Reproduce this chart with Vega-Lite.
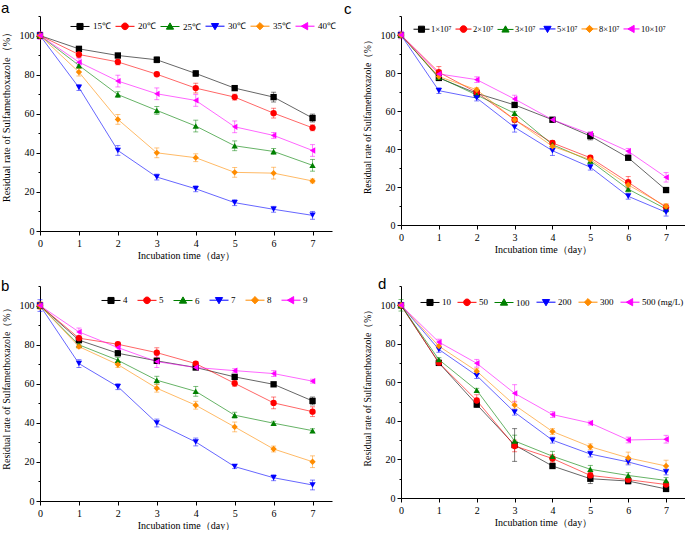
{
  "$schema": "https://vega.github.io/schema/vega-lite/v6.json",
  "background": "white",
  "padding": {"left": 1, "top": 1, "right": 0, "bottom": 0},
  "config": {
    "view": {"stroke": null},
    "axis": {"grid": false, "domainColor": "#000", "tickColor": "#000", "labelColor": "#000", "titleColor": "#000", "labelFont": "Liberation Serif", "labelFontSize": 10, "titleFont": "Liberation Serif", "titleFontSize": 10, "titleFontWeight": "normal", "tickSize": 4, "labelPadding": 2, "labelFlush": false, "labelOverlap": false},
    "axisY": {"titlePadding": 8, "titleY": 98},
    "axisX": {"titlePadding": 2, "labelPadding": 3},
    "legend": {"orient": "none", "direction": "horizontal", "symbolSize": 361, "labelFont": "Liberation Serif", "labelFontSize": 9, "labelColor": "#000", "labelOffset": 2, "columnPadding": 2, "title": null, "symbolOpacity": 1, "symbolStrokeWidth": 1},
    "title": {"font": "Liberation Sans", "fontSize": 15, "fontWeight": "normal", "anchor": "start", "frame": "group", "color": "#000", "offset": 0}
  },
  "datasets": {
    "a": [
      {"s":"15℃","t":0,"v":100,"e":1.5},{"s":"15℃","t":1,"v":93.2,"e":1},{"s":"15℃","t":2,"v":89.8,"e":1},{"s":"15℃","t":3,"v":87.6,"e":1.5},{"s":"15℃","t":4,"v":80.6,"e":1.5},{"s":"15℃","t":5,"v":73.1,"e":1},{"s":"15℃","t":6,"v":68.5,"e":2.5},{"s":"15℃","t":7,"v":57.8,"e":2},
      {"s":"20℃","t":0,"v":100,"e":1.5},{"s":"20℃","t":1,"v":90.3,"e":1.5},{"s":"20℃","t":2,"v":86.5,"e":1.5},{"s":"20℃","t":3,"v":80.2,"e":1},{"s":"20℃","t":4,"v":73.1,"e":2.5},{"s":"20℃","t":5,"v":68.5,"e":1.5},{"s":"20℃","t":6,"v":60.3,"e":2.5},{"s":"20℃","t":7,"v":52.8,"e":1.5},
      {"s":"25℃","t":0,"v":100,"e":1.5},{"s":"25℃","t":1,"v":84.7,"e":1.5},{"s":"25℃","t":2,"v":69.8,"e":1.5},{"s":"25℃","t":3,"v":61.7,"e":2},{"s":"25℃","t":4,"v":53.7,"e":3},{"s":"25℃","t":5,"v":43.6,"e":2.5},{"s":"25℃","t":6,"v":40.7,"e":1.5},{"s":"25℃","t":7,"v":33.6,"e":3},
      {"s":"30℃","t":0,"v":100,"e":1},{"s":"30℃","t":1,"v":73.4,"e":1.5},{"s":"30℃","t":2,"v":41.2,"e":2.5},{"s":"30℃","t":3,"v":27.6,"e":1.5},{"s":"30℃","t":4,"v":21.6,"e":1.5},{"s":"30℃","t":5,"v":14.5,"e":1.5},{"s":"30℃","t":6,"v":11.1,"e":1.5},{"s":"30℃","t":7,"v":8.0,"e":2},
      {"s":"35℃","t":0,"v":100,"e":1},{"s":"35℃","t":1,"v":81.3,"e":2},{"s":"35℃","t":2,"v":57.1,"e":2.5},{"s":"35℃","t":3,"v":40.0,"e":2.5},{"s":"35℃","t":4,"v":37.5,"e":2},{"s":"35℃","t":5,"v":30.0,"e":2.5},{"s":"35℃","t":6,"v":29.6,"e":3},{"s":"35℃","t":7,"v":25.6,"e":1},
      {"s":"40℃","t":0,"v":100,"e":2},{"s":"40℃","t":1,"v":86.4,"e":2},{"s":"40℃","t":2,"v":76.7,"e":3},{"s":"40℃","t":3,"v":70.2,"e":3},{"s":"40℃","t":4,"v":66.8,"e":3},{"s":"40℃","t":5,"v":53.3,"e":3},{"s":"40℃","t":6,"v":48.9,"e":1.5},{"s":"40℃","t":7,"v":41.2,"e":3}
    ],
    "b": [
      {"s":"4","t":0,"v":100,"e":1},{"s":"4","t":1,"v":82.3,"e":1},{"s":"4","t":2,"v":75.6,"e":1},{"s":"4","t":3,"v":71.7,"e":1},{"s":"4","t":4,"v":68.3,"e":1},{"s":"4","t":5,"v":63.5,"e":1},{"s":"4","t":6,"v":59.7,"e":1},{"s":"4","t":7,"v":51.2,"e":2},
      {"s":"5","t":0,"v":100,"e":1},{"s":"5","t":1,"v":83.3,"e":1},{"s":"5","t":2,"v":80.2,"e":1},{"s":"5","t":3,"v":75.9,"e":2.5},{"s":"5","t":4,"v":70.3,"e":1},{"s":"5","t":5,"v":60.2,"e":1.5},{"s":"5","t":6,"v":50.2,"e":3},{"s":"5","t":7,"v":45.7,"e":2.5},
      {"s":"6","t":0,"v":100,"e":1},{"s":"6","t":1,"v":79.9,"e":1},{"s":"6","t":2,"v":72.0,"e":1.5},{"s":"6","t":3,"v":61.8,"e":2},{"s":"6","t":4,"v":56.1,"e":2.5},{"s":"6","t":5,"v":43.9,"e":1.5},{"s":"6","t":6,"v":39.8,"e":1},{"s":"6","t":7,"v":36.0,"e":1},
      {"s":"7","t":0,"v":100,"e":3},{"s":"7","t":1,"v":70.3,"e":2},{"s":"7","t":2,"v":58.5,"e":1.5},{"s":"7","t":3,"v":39.9,"e":2},{"s":"7","t":4,"v":30.2,"e":2},{"s":"7","t":5,"v":17.6,"e":1},{"s":"7","t":6,"v":11.9,"e":1.5},{"s":"7","t":7,"v":8.2,"e":2.5},
      {"s":"8","t":0,"v":100,"e":2},{"s":"8","t":1,"v":79.0,"e":1},{"s":"8","t":2,"v":69.8,"e":1.5},{"s":"8","t":3,"v":57.7,"e":2},{"s":"8","t":4,"v":49.0,"e":2},{"s":"8","t":5,"v":37.9,"e":2.5},{"s":"8","t":6,"v":26.6,"e":1.5},{"s":"8","t":7,"v":20.1,"e":3},
      {"s":"9","t":0,"v":100,"e":1.5},{"s":"9","t":1,"v":86.5,"e":2},{"s":"9","t":2,"v":78.5,"e":2},{"s":"9","t":3,"v":71.3,"e":3},{"s":"9","t":4,"v":68.3,"e":1},{"s":"9","t":5,"v":66.7,"e":1},{"s":"9","t":6,"v":65.2,"e":1.5},{"s":"9","t":7,"v":61.3,"e":1}
    ],
    "c": [
      {"s":"1×10⁷","t":0,"v":100,"e":1},{"s":"1×10⁷","t":1,"v":77.4,"e":1},{"s":"1×10⁷","t":2,"v":69.3,"e":1},{"s":"1×10⁷","t":3,"v":63.2,"e":1},{"s":"1×10⁷","t":4,"v":55.4,"e":1},{"s":"1×10⁷","t":5,"v":46.8,"e":2},{"s":"1×10⁷","t":6,"v":35.4,"e":1},{"s":"1×10⁷","t":7,"v":18.4,"e":1},
      {"s":"2×10⁷","t":0,"v":100,"e":1},{"s":"2×10⁷","t":1,"v":80.4,"e":3},{"s":"2×10⁷","t":2,"v":69.8,"e":1},{"s":"2×10⁷","t":3,"v":55.4,"e":1},{"s":"2×10⁷","t":4,"v":43.2,"e":1},{"s":"2×10⁷","t":5,"v":35.4,"e":1},{"s":"2×10⁷","t":6,"v":22.5,"e":3},{"s":"2×10⁷","t":7,"v":9.3,"e":1.5},
      {"s":"3×10⁷","t":0,"v":100,"e":1},{"s":"3×10⁷","t":1,"v":77.7,"e":1},{"s":"3×10⁷","t":2,"v":68.4,"e":1},{"s":"3×10⁷","t":3,"v":58.8,"e":1},{"s":"3×10⁷","t":4,"v":42.3,"e":2},{"s":"3×10⁷","t":5,"v":33.7,"e":1.5},{"s":"3×10⁷","t":6,"v":18.9,"e":1.5},{"s":"3×10⁷","t":7,"v":8.4,"e":1.5},
      {"s":"5×10⁷","t":0,"v":100,"e":1},{"s":"5×10⁷","t":1,"v":70.7,"e":1.5},{"s":"5×10⁷","t":2,"v":66.8,"e":1.5},{"s":"5×10⁷","t":3,"v":51.4,"e":2.5},{"s":"5×10⁷","t":4,"v":39.1,"e":2.5},{"s":"5×10⁷","t":5,"v":30.4,"e":1.5},{"s":"5×10⁷","t":6,"v":15.1,"e":1.5},{"s":"5×10⁷","t":7,"v":6.7,"e":2},
      {"s":"8×10⁷","t":0,"v":100,"e":1},{"s":"8×10⁷","t":1,"v":78.1,"e":1},{"s":"8×10⁷","t":2,"v":71.2,"e":1},{"s":"8×10⁷","t":3,"v":55.4,"e":2.5},{"s":"8×10⁷","t":4,"v":41.4,"e":2},{"s":"8×10⁷","t":5,"v":34.4,"e":1.5},{"s":"8×10⁷","t":6,"v":21.1,"e":2},{"s":"8×10⁷","t":7,"v":9.8,"e":1.5},
      {"s":"10×10⁷","t":0,"v":100,"e":2},{"s":"10×10⁷","t":1,"v":79.5,"e":1.5},{"s":"10×10⁷","t":2,"v":76.5,"e":1.5},{"s":"10×10⁷","t":3,"v":66.3,"e":2},{"s":"10×10⁷","t":4,"v":55.4,"e":1},{"s":"10×10⁷","t":5,"v":47.9,"e":1},{"s":"10×10⁷","t":6,"v":38.8,"e":1.5},{"s":"10×10⁷","t":7,"v":25.1,"e":2.5}
    ],
    "d": [
      {"s":"10","t":0,"v":100,"e":1.5},{"s":"10","t":1,"v":70.1,"e":1},{"s":"10","t":2,"v":48.5,"e":1.5},{"s":"10","t":3,"v":27.5,"e":8.5},{"s":"10","t":4,"v":16.6,"e":1},{"s":"10","t":5,"v":10.0,"e":2.5},{"s":"10","t":6,"v":8.8,"e":1.5},{"s":"10","t":7,"v":4.7,"e":1},
      {"s":"50","t":0,"v":100,"e":1},{"s":"50","t":1,"v":70.2,"e":1},{"s":"50","t":2,"v":50.6,"e":3},{"s":"50","t":3,"v":27.0,"e":3},{"s":"50","t":4,"v":20.5,"e":2},{"s":"50","t":5,"v":11.7,"e":1.5},{"s":"50","t":6,"v":9.5,"e":1.5},{"s":"50","t":7,"v":7.0,"e":1.5},
      {"s":"100","t":0,"v":100,"e":3},{"s":"100","t":1,"v":71.8,"e":1},{"s":"100","t":2,"v":55.9,"e":1},{"s":"100","t":3,"v":29.6,"e":3},{"s":"100","t":4,"v":21.7,"e":2.5},{"s":"100","t":5,"v":14.9,"e":2},{"s":"100","t":6,"v":11.7,"e":1.5},{"s":"100","t":7,"v":9.1,"e":1.5},
      {"s":"200","t":0,"v":100,"e":1},{"s":"200","t":1,"v":77.1,"e":1.5},{"s":"200","t":2,"v":63.5,"e":1.5},{"s":"200","t":3,"v":44.5,"e":1.5},{"s":"200","t":4,"v":30.0,"e":1.5},{"s":"200","t":5,"v":22.8,"e":1.5},{"s":"200","t":6,"v":18.7,"e":1.5},{"s":"200","t":7,"v":13.5,"e":1.5},
      {"s":"300","t":0,"v":100,"e":1},{"s":"300","t":1,"v":78.8,"e":1},{"s":"300","t":2,"v":65.8,"e":1.5},{"s":"300","t":3,"v":48.2,"e":2},{"s":"300","t":4,"v":34.5,"e":1.5},{"s":"300","t":5,"v":26.6,"e":1.5},{"s":"300","t":6,"v":20.8,"e":3},{"s":"300","t":7,"v":16.6,"e":3},
      {"s":"500 (mg/L)","t":0,"v":100,"e":1},{"s":"500 (mg/L)","t":1,"v":80.9,"e":1.5},{"s":"500 (mg/L)","t":2,"v":69.9,"e":2},{"s":"500 (mg/L)","t":3,"v":54.3,"e":4.5},{"s":"500 (mg/L)","t":4,"v":43.3,"e":1.5},{"s":"500 (mg/L)","t":5,"v":38.9,"e":1},{"s":"500 (mg/L)","t":6,"v":30.1,"e":1.5},{"s":"500 (mg/L)","t":7,"v":30.5,"e":2}
    ]
  },
  "columns": 2,
  "bounds": "flush",
  "spacing": {"row": 55, "column": 69},
  "resolve": {"scale": {"color": "independent", "fill": "independent", "shape": "independent", "x": "independent", "y": "independent"}},
  "concat": [
    {
      "width": 292, "height": 215,
      "title": {"text": "a", "dx": -39, "dy": 9},
      "data": {"name": "a"},
      "encoding": {
        "x": {"field": "t", "type": "quantitative", "scale": {"domain": [0, 7.5], "nice": false}, "axis": {"values": [0,1,2,3,4,5,6,7], "title": "Incubation time（day）"}},
        "y": {"field": "v", "type": "quantitative", "scale": {"domain": [0, 110], "nice": false}, "axis": {"values": [0,10,20,30,40,50,60,70,80,90,100,110], "labelExpr": "datum.value % 20 == 0 && datum.value <= 100 ? datum.label : ''", "tickSize": {"condition": {"test": "datum.value % 20 == 0", "value": 4}, "value": 2}, "title": "Residual rate of Sulfamethoxazole（%）", "titleFontSize": 10.5}}
      },
      "layer": [
        {"mark": {"type": "errorbar", "ticks": {"size": 5}, "opacity": 0.5, "thickness": 1}, "encoding": {"yError": {"field": "e"}, "color": {"field": "s", "type": "nominal", "scale": {"domain": ["15℃","20℃","25℃","30℃","35℃","40℃","-"], "range": ["#000000","#ff0000","#008000","#0000ff","#ff8c00","#ff00ff","#999999"]}, "legend": null}}},
        {"mark": {"type": "line", "strokeWidth": 1, "opacity": 0.6}, "encoding": {"color": {"field": "s", "type": "nominal", "legend": null}}},
        {"mark": {"type": "point", "filled": true, "size": 40, "opacity": 1}, "encoding": {
          "fill": {"field": "s", "type": "nominal", "scale": {"domain": ["15℃","20℃","25℃","30℃","35℃","40℃"], "range": ["#000000","#ff0000","#008000","#0000ff","#ff8c00","#ff00ff"]},
            "legend": {"legendX": 30, "legendY": 0, "labelOffset": 3, "encode": {"symbols": {"update": {
              "shape": {"signal": "['M-1,0H1M-0.32,-0.32H0.32V0.32H-0.32Z','M-1,0H1M0.35,0A0.35,0.35,0,1,1,-0.35,0A0.35,0.35,0,1,1,0.35,0Z','M-1,0H1M0,-0.38L0.38,0.28L-0.38,0.28Z','M-1,0H1M0,0.38L0.38,-0.28L-0.38,-0.28Z','M-1,0H1M0,-0.38L0.38,0L0,0.38L-0.38,0Z','M-1,0H1M-0.38,0L0.28,-0.38L0.28,0.38Z'][datum.index]"},
              "stroke": {"signal": "['#000000','#ff0000','#008000','#0000ff','#ff8c00','#ff00ff'][datum.index]"}}}}}},
          "shape": {"field": "s", "type": "nominal", "scale": {"domain": ["15℃","20℃","25℃","30℃","35℃","40℃","-"], "range": ["square","circle","triangle-up","triangle-down","diamond","triangle-left","cross"]}, "legend": null}}}
      ]
    },
    {
      "width": 284, "height": 209,
      "title": {"text": "c", "dx": -57, "dy": 10},
      "data": {"name": "c"},
      "encoding": {
        "x": {"field": "t", "type": "quantitative", "scale": {"domain": [0, 7.5], "nice": false}, "axis": {"values": [0,1,2,3,4,5,6,7], "title": "Incubation time（day）"}},
        "y": {"field": "v", "type": "quantitative", "scale": {"domain": [0, 110], "nice": false}, "axis": {"values": [0,10,20,30,40,50,60,70,80,90,100,110], "labelExpr": "datum.value % 20 == 0 && datum.value <= 100 ? datum.label : ''", "tickSize": {"condition": {"test": "datum.value % 20 == 0", "value": 4}, "value": 2}, "title": "Residual rate of Sulfamethoxazole（%）", "titleFontSize": 9.5}}
      },
      "layer": [
        {"mark": {"type": "errorbar", "ticks": {"size": 5}, "opacity": 0.5, "thickness": 1}, "encoding": {"yError": {"field": "e"}, "color": {"field": "s", "type": "nominal", "scale": {"domain": ["1×10⁷","2×10⁷","3×10⁷","5×10⁷","8×10⁷","10×10⁷","-"], "range": ["#000000","#ff0000","#008000","#0000ff","#ff8c00","#ff00ff","#999999"]}, "legend": null}}},
        {"mark": {"type": "line", "strokeWidth": 1, "opacity": 0.6}, "encoding": {"color": {"field": "s", "type": "nominal", "legend": null}}},
        {"mark": {"type": "point", "filled": true, "size": 40, "opacity": 1}, "encoding": {
          "fill": {"field": "s", "type": "nominal", "scale": {"domain": ["1×10⁷","2×10⁷","3×10⁷","5×10⁷","8×10⁷","10×10⁷"], "range": ["#000000","#ff0000","#008000","#0000ff","#ff8c00","#ff00ff"]},
            "legend": {"legendX": 12, "legendY": 4, "columnPadding": 1, "symbolSize": 256, "labelFontSize": 8.5, "labelOffset": 1, "encode": {"symbols": {"update": {
              "shape": {"signal": "['M-1,0H1M-0.38,-0.38H0.38V0.38H-0.38Z','M-1,0H1M0.42,0A0.42,0.42,0,1,1,-0.42,0A0.42,0.42,0,1,1,0.42,0Z','M-1,0H1M0,-0.45L0.45,0.33L-0.45,0.33Z','M-1,0H1M0,0.45L0.45,-0.33L-0.45,-0.33Z','M-1,0H1M0,-0.45L0.45,0L0,0.45L-0.45,0Z','M-1,0H1M-0.45,0L0.33,-0.45L0.33,0.45Z'][datum.index]"},
              "stroke": {"signal": "['#000000','#ff0000','#008000','#0000ff','#ff8c00','#ff00ff'][datum.index]"}}}}}},
          "shape": {"field": "s", "type": "nominal", "scale": {"domain": ["1×10⁷","2×10⁷","3×10⁷","5×10⁷","8×10⁷","10×10⁷","-"], "range": ["square","circle","triangle-up","triangle-down","diamond","triangle-left","cross"]}, "legend": null}}}
      ]
    },
    {
      "width": 292, "height": 215,
      "title": {"text": "b", "dx": -39, "dy": 17},
      "data": {"name": "b"},
      "encoding": {
        "x": {"field": "t", "type": "quantitative", "scale": {"domain": [0, 7.5], "nice": false}, "axis": {"values": [0,1,2,3,4,5,6,7], "title": "Incubation time（day）"}},
        "y": {"field": "v", "type": "quantitative", "scale": {"domain": [0, 110], "nice": false}, "axis": {"values": [0,10,20,30,40,50,60,70,80,90,100,110], "labelExpr": "datum.value % 20 == 0 && datum.value <= 100 ? datum.label : ''", "tickSize": {"condition": {"test": "datum.value % 20 == 0", "value": 4}, "value": 2}, "title": "Residual rate of Sulfamethoxazole（%）", "titleFontSize": 10, "titleY": 100}}
      },
      "layer": [
        {"mark": {"type": "errorbar", "ticks": {"size": 5}, "opacity": 0.5, "thickness": 1}, "encoding": {"yError": {"field": "e"}, "color": {"field": "s", "type": "nominal", "scale": {"domain": ["4","5","6","7","8","9","-"], "range": ["#000000","#ff0000","#008000","#0000ff","#ff8c00","#ff00ff","#999999"]}, "legend": null}}},
        {"mark": {"type": "line", "strokeWidth": 1, "opacity": 0.6}, "encoding": {"color": {"field": "s", "type": "nominal", "legend": null}}},
        {"mark": {"type": "point", "filled": true, "size": 40, "opacity": 1}, "encoding": {
          "fill": {"field": "s", "type": "nominal", "scale": {"domain": ["4","5","6","7","8","9"], "range": ["#000000","#ff0000","#008000","#0000ff","#ff8c00","#ff00ff"]},
            "legend": {"legendX": 61, "legendY": 4, "columnPadding": 7, "encode": {"symbols": {"update": {
              "shape": {"signal": "['M-1,0H1M-0.32,-0.32H0.32V0.32H-0.32Z','M-1,0H1M0.35,0A0.35,0.35,0,1,1,-0.35,0A0.35,0.35,0,1,1,0.35,0Z','M-1,0H1M0,-0.38L0.38,0.28L-0.38,0.28Z','M-1,0H1M0,0.38L0.38,-0.28L-0.38,-0.28Z','M-1,0H1M0,-0.38L0.38,0L0,0.38L-0.38,0Z','M-1,0H1M-0.38,0L0.28,-0.38L0.28,0.38Z'][datum.index]"},
              "stroke": {"signal": "['#000000','#ff0000','#008000','#0000ff','#ff8c00','#ff00ff'][datum.index]"}}}}}},
          "shape": {"field": "s", "type": "nominal", "scale": {"domain": ["4","5","6","7","8","9","-"], "range": ["square","circle","triangle-up","triangle-down","diamond","triangle-left","cross"]}, "legend": null}}}
      ]
    },
    {
      "width": 284, "height": 212,
      "title": {"text": "d", "dx": -23, "dy": 15},
      "data": {"name": "d"},
      "encoding": {
        "x": {"field": "t", "type": "quantitative", "scale": {"domain": [0, 7.5], "nice": false}, "axis": {"values": [0,1,2,3,4,5,6,7], "title": "Incubation time（day）"}},
        "y": {"field": "v", "type": "quantitative", "scale": {"domain": [0, 110], "nice": false}, "axis": {"values": [0,10,20,30,40,50,60,70,80,90,100,110], "labelExpr": "datum.value % 20 == 0 && datum.value <= 100 ? datum.label : ''", "tickSize": {"condition": {"test": "datum.value % 20 == 0", "value": 4}, "value": 2}, "title": "Residual rate of Sulfamethoxazole（%）", "titleFontSize": 9.7, "titleY": 99}}
      },
      "layer": [
        {"mark": {"type": "errorbar", "ticks": {"size": 5}, "opacity": 0.5, "thickness": 1}, "encoding": {"yError": {"field": "e"}, "color": {"field": "s", "type": "nominal", "scale": {"domain": ["10","50","100","200","300","500 (mg/L)","-"], "range": ["#000000","#ff0000","#008000","#0000ff","#ff8c00","#ff00ff","#999999"]}, "legend": null}}},
        {"mark": {"type": "line", "strokeWidth": 1, "opacity": 0.6}, "encoding": {"color": {"field": "s", "type": "nominal", "legend": null}}},
        {"mark": {"type": "point", "filled": true, "size": 40, "opacity": 1}, "encoding": {
          "fill": {"field": "s", "type": "nominal", "scale": {"domain": ["10","50","100","200","300","500 (mg/L)"], "range": ["#000000","#ff0000","#008000","#0000ff","#ff8c00","#ff00ff"]},
            "legend": {"legendX": 19, "legendY": 6, "columnPadding": 4, "encode": {"symbols": {"update": {
              "shape": {"signal": "['M-1,0H1M-0.32,-0.32H0.32V0.32H-0.32Z','M-1,0H1M0.35,0A0.35,0.35,0,1,1,-0.35,0A0.35,0.35,0,1,1,0.35,0Z','M-1,0H1M0,-0.38L0.38,0.28L-0.38,0.28Z','M-1,0H1M0,0.38L0.38,-0.28L-0.38,-0.28Z','M-1,0H1M0,-0.38L0.38,0L0,0.38L-0.38,0Z','M-1,0H1M-0.38,0L0.28,-0.38L0.28,0.38Z'][datum.index]"},
              "stroke": {"signal": "['#000000','#ff0000','#008000','#0000ff','#ff8c00','#ff00ff'][datum.index]"}}}}}},
          "shape": {"field": "s", "type": "nominal", "scale": {"domain": ["10","50","100","200","300","500 (mg/L)","-"], "range": ["square","circle","triangle-up","triangle-down","diamond","triangle-left","cross"]}, "legend": null}}}
      ]
    }
  ]
}
